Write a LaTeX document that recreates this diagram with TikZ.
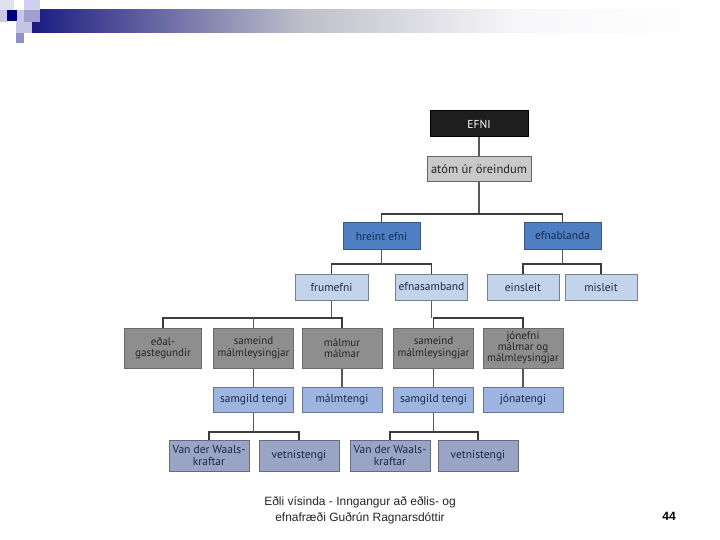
\documentclass[tikz,border=0pt]{standalone}
\usepackage{fontspec}
\setmainfont{Liberation Sans}
\newfontfamily\boxfont{PT Sans}
\definecolor{navy}{HTML}{1C1C80}
\definecolor{midgrad}{HTML}{BEBECA}
\definecolor{lightgrad}{HTML}{F8F8FA}
\definecolor{efnifill}{HTML}{1E1E1E}
\definecolor{atomfill}{HTML}{C9C9C9}
\definecolor{blueA}{HTML}{4F7FC2}
\definecolor{blueB}{HTML}{C3D3EC}
\definecolor{grayC}{HTML}{8E8E8E}
\definecolor{blueD}{HTML}{9DB5E0}
\definecolor{greyblueE}{HTML}{9AA4C4}
\definecolor{txtblue}{HTML}{1A2A4A}
\definecolor{linec}{HTML}{3C3C3C}
\tikzset{
  base/.style={rectangle, inner sep=0pt, align=center, font=\boxfont\fontsize{11.5}{12}\selectfont, line width=1pt},
  efnibox/.style={base, fill=efnifill, draw=black, text=white},
  atombox/.style={base, fill=atomfill, draw=gray!80!black, text=black!85, font=\boxfont\fontsize{12.5}{13}\selectfont},
  bluebox/.style={base, fill=blueA, draw=blueA!70!black, text=txtblue},
  lbluebox/.style={base, fill=blueB, draw=blueB!60!black, text=txtblue},
  graybox/.style={base, fill=grayC, draw=grayC!75!black, text=black!85, minimum height=40pt, minimum width=80pt, font=\boxfont\fontsize{11}{11.5}\selectfont},
  mbluebox/.style={base, fill=blueD, draw=blueD!65!black, text=txtblue, minimum height=25pt, minimum width=80pt},
  gbbox/.style={base, fill=greyblueE, draw=greyblueE!65!black, text=txtblue, minimum height=31pt, minimum width=80pt},
  conn/.style={draw=linec, line width=1.6pt},
  vconn/.style={draw=gray!70!black, line width=1.3pt},
}
\begin{document}
\begin{tikzpicture}[x=1pt,y=-1pt]
\useasboundingbox (0,0) rectangle (720,540);
% header decoration
\fill[fill=white] (0,0) rectangle (720,540);
\shade[left color=navy, right color=midgrad] (32,10) rectangle (300.5,33);
\shade[left color=midgrad, right color=lightgrad] (300,10) rectangle (520.5,33);
\shade[left color=lightgrad, right color=white] (520,10) rectangle (720,33);
\fill[color={rgb,255:red,224;green,224;blue,240}] (0,0) rectangle (14,10);
\fill[color={rgb,255:red,208;green,208;blue,238}] (24,0) rectangle (40,10);
\fill[color={rgb,255:red,200;green,200;blue,232}] (0,10) rectangle (7,22);
\fill[color={rgb,255:red,0;green,0;blue,128}] (7,10) rectangle (17,21);
\fill[color={rgb,255:red,200;green,200;blue,232}] (17,10) rectangle (24,22);
\fill[color={rgb,255:red,160;green,160;blue,208}] (24,10) rectangle (40,22);
\fill[color={rgb,255:red,196;green,196;blue,228}] (16,22) rectangle (32,33);
\fill[color={rgb,255:red,144;green,144;blue,200}] (16,33) rectangle (24,43);

% nodes
\node[efnibox, minimum width=98pt, minimum height=26pt] (efni) at (479,124) {EFNI};
\node[atombox, minimum width=104pt, minimum height=25pt] (atom) at (479,169.5) {atóm úr öreindum};
\node[bluebox, minimum width=77pt, minimum height=26pt] (hreint) at (381.5,236) {hreint efni};
\node[bluebox, minimum width=77pt, minimum height=26pt] (efnab) at (562.5,236) {efnablanda};
\node[lbluebox, minimum width=73pt, minimum height=26pt] (frum) at (331.5,287) {frumefni};
\node[lbluebox, minimum width=72pt, minimum height=26pt] (efnas) at (431.5,287) {efnasamband};
\node[lbluebox, minimum width=72pt, minimum height=26pt] (eins) at (523,287) {einsleit};
\node[lbluebox, minimum width=72pt, minimum height=26pt] (misl) at (601,287) {misleit};

\node[graybox, minimum width=77pt] (edal) at (163,348) {eðal-\\gastegundir};
\node[graybox] (sam1) at (253.5,348) {sameind\\málmleysingjar};
\node[graybox] (malm) at (342,348) {málmur\\málmar};
\node[graybox] (sam2) at (433.5,348) {sameind\\málmleysingjar};
\node[graybox, font=\boxfont\fontsize{11}{11}\selectfont] (jon) at (523,348) {jónefni\\málmar og\\málmleysingjar};

\node[mbluebox] (sg1) at (253.5,399.5) {samgild tengi};
\node[mbluebox] (mt) at (342,399.5) {málmtengi};
\node[mbluebox] (sg2) at (433.5,399.5) {samgild tengi};
\node[mbluebox] (jt) at (523,399.5) {jónatengi};

\node[gbbox] (vdw1) at (209,455.5) {Van der Waals-\\kraftar};
\node[gbbox] (vet1) at (299,455.5) {vetnistengi};
\node[gbbox] (vdw2) at (390,455.5) {Van der Waals-\\kraftar};
\node[gbbox] (vet2) at (478,455.5) {vetnistengi};

% bar levels
\coordinate (b1) at (0,214);
\coordinate (b2) at (0,264);
\coordinate (b3) at (0,318);
\coordinate (b4) at (0,432);

% connectors
\draw[vconn] (efni.south) -- (atom.north);
\draw[vconn] (atom.south) -- (atom.south |- b1);
\draw[conn] (hreint.north) -- (hreint.north |- b1) -- (efnab.north |- b1) -- (efnab.north);

\draw[vconn] (hreint.south) -- (hreint.south |- b2);
\draw[conn] (frum.north) -- (frum.north |- b2) -- (efnas.north |- b2) -- (efnas.north);
\draw[vconn] (efnab.south) -- (efnab.south |- b2);
\draw[conn] (eins.north) -- (eins.north |- b2) -- (misl.north |- b2) -- (misl.north);

\draw[vconn] (frum.south) -- (frum.south |- b3);
\draw[conn] (edal.north) -- (edal.north |- b3) -- (malm.north |- b3) -- (malm.north);
\draw[vconn] (sam1.north) -- (sam1.north |- b3);
\draw[vconn] (efnas.south) -- (efnas.south |- b3);
\draw[conn] (sam2.north) -- (sam2.north |- b3) -- (jon.north |- b3) -- (jon.north);

\draw[vconn] (sam1.south) -- (sg1.north);
\draw[vconn] (malm.south) -- (mt.north);
\draw[vconn] (sam2.south) -- (sg2.north);
\draw[vconn] (jon.south) -- (jt.north);

\draw[vconn] (sg1.south) -- (sg1.south |- b4);
\draw[conn] (vdw1.north) -- (vdw1.north |- b4) -- (vet1.north |- b4) -- (vet1.north);
\draw[vconn] (sg2.south) -- (sg2.south |- b4);
\draw[conn] (vdw2.north) -- (vdw2.north |- b4) -- (vet2.north |- b4) -- (vet2.north);

% footer
\node[align=center, font=\fontsize{12}{16}\selectfont, text=black!85] (foot) at (360,510) {Eðli vísinda - Inngangur að eðlis- og\\efnafræði Guðrún Ragnarsdóttir};
\node[font=\bfseries\fontsize{12}{14}\selectfont] (pg) at (669,516) {44};
\end{tikzpicture}
\end{document}
